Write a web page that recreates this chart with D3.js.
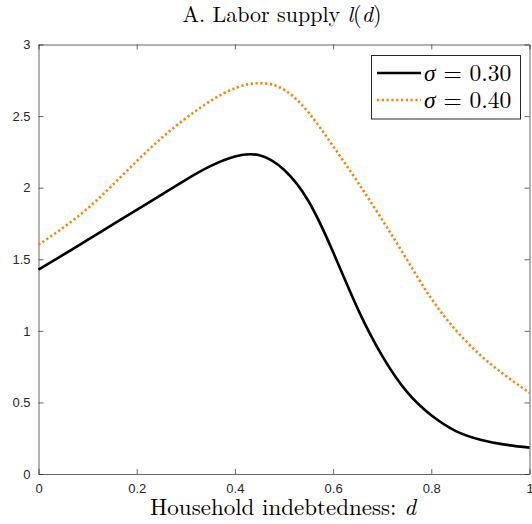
<!DOCTYPE html>
<html><head><meta charset="utf-8">
<script src="https://cdn.jsdelivr.net/npm/d3@7"></script>
<style>body{margin:0;background:#fff}svg{display:block}</style>
</head><body>
<svg id="c" width="532" height="524"></svg>
<script>
const dGrid = [0,0.05,0.1,0.15,0.2,0.25,0.3,0.35,0.4,0.45,0.5,0.55,0.6,0.65,0.7,0.75,0.8,0.85,0.9,0.95,1.0];
const l030  = [1.428,1.53,1.635,1.74,1.845,1.95,2.055,2.15,2.218,2.226,2.125,1.905,1.55,1.155,0.825,0.575,0.41,0.30,0.24,0.205,0.184];
const l040  = [1.60,1.72,1.855,2.015,2.185,2.345,2.485,2.605,2.695,2.73,2.685,2.525,2.29,2.04,1.775,1.50,1.225,1.005,0.83,0.69,0.567];
const xTicks = [0,0.2,0.4,0.6,0.8,1];
const yTicks = [0,0.5,1,1.5,2,2.5,3];
const seriesNames = ["\u03c3 = 0.30","\u03c3 = 0.40"];

const svg = d3.select("#c");
const L=38.5, R=529.5, T=44.5, B=474;
const x = d3.scaleLinear().domain([0,1]).range([L,R]);
const y = d3.scaleLinear().domain([0,3]).range([B,T]);
const axCol="#262626";
const tickFmt = d => d===0?"0":(d===1?"1":String(d));

const gx = svg.append("g").attr("transform",`translate(0,${B})`)
  .call(d3.axisBottom(x).tickValues(xTicks).tickSizeInner(-5).tickSizeOuter(0).tickPadding(14).tickFormat(tickFmt));
const gxt = svg.append("g").attr("transform",`translate(0,${T})`)
  .call(d3.axisTop(x).tickValues(xTicks).tickSizeInner(-5).tickSizeOuter(0).tickFormat(""));
const gy = svg.append("g").attr("transform",`translate(${L},0)`)
  .call(d3.axisLeft(y).tickValues(yTicks).tickSizeInner(-5).tickSizeOuter(0).tickPadding(8).tickFormat(tickFmt));
const gyr = svg.append("g").attr("transform",`translate(${R},0)`)
  .call(d3.axisRight(y).tickValues(yTicks).tickSizeInner(-5).tickSizeOuter(0).tickFormat(""));
[gx,gxt,gy,gyr].forEach(g=>{
  g.selectAll("path.domain").attr("stroke",axCol).attr("stroke-width",1).attr("opacity",0.7);
  g.selectAll(".tick line").attr("stroke",axCol).attr("stroke-width",1).attr("opacity",0.7);
  g.selectAll("text").attr("fill",axCol).style("font-family","'Liberation Sans', Arial, sans-serif").style("font-size","13px");
});
gx.selectAll("text").attr("dy","0.35em");

const line = d3.line().curve(d3.curveNatural);
const p1 = dGrid.map((d,i)=>[x(d),y(l030[i])]);
const p2 = dGrid.map((d,i)=>[x(d),y(l040[i])]);
svg.append("path").attr("d",line(p2)).attr("fill","none").attr("stroke","#ff8000")
  .attr("stroke-width",2.6).attr("stroke-dasharray","2.2 2.6");
svg.append("path").attr("d",line(p1)).attr("fill","none").attr("stroke","#000")
  .attr("stroke-width",2.6);

const serif = "'Latin Modern Roman','CMU Serif','Liberation Serif','DejaVu Serif',serif";
const title = svg.append("text").attr("x",(L+R)/2 - 2).attr("y",22).attr("text-anchor","middle")
  .style("font-family",serif).style("font-size","22px").attr("fill","#000");
title.append("tspan").text("A. Labor supply ");
title.append("tspan").style("font-style","italic").text("l");
title.append("tspan").text("(");
title.append("tspan").style("font-style","italic").text("d");
title.append("tspan").text(")");

const xl = svg.append("text").attr("x",(L+R)/2 - 1).attr("y",515).attr("text-anchor","middle")
  .style("font-family",serif).style("font-size","23px").attr("fill","#000");
xl.append("tspan").text("Household indebtedness: ");
xl.append("tspan").style("font-style","italic").text("d");

const lg = svg.append("g");
lg.append("rect").attr("x",371.5).attr("y",55.5).attr("width",149).attr("height",63.5)
  .attr("fill","#fff").attr("stroke",axCol).attr("stroke-width",1);
const rows=[{c:"#000",dash:null,y:73},{c:"#ff8000",dash:"2.2 2.6",y:100}];
rows.forEach((r,i)=>{
  const ln = lg.append("line").attr("x1",377).attr("x2",421).attr("y1",r.y).attr("y2",r.y)
    .attr("stroke",r.c).attr("stroke-width",2.6);
  if(r.dash) ln.attr("stroke-dasharray",r.dash);
  const t = lg.append("text").attr("x",424).attr("y",r.y+7.5).style("font-family",serif)
    .style("font-size","23.5px").attr("fill","#000");
  const parts = seriesNames[i].split(" ");
  t.append("tspan").style("font-style","italic").text(parts[0]);
  t.append("tspan").text(" "+parts[1]+" "+parts[2]);
});
</script>
</body></html>
